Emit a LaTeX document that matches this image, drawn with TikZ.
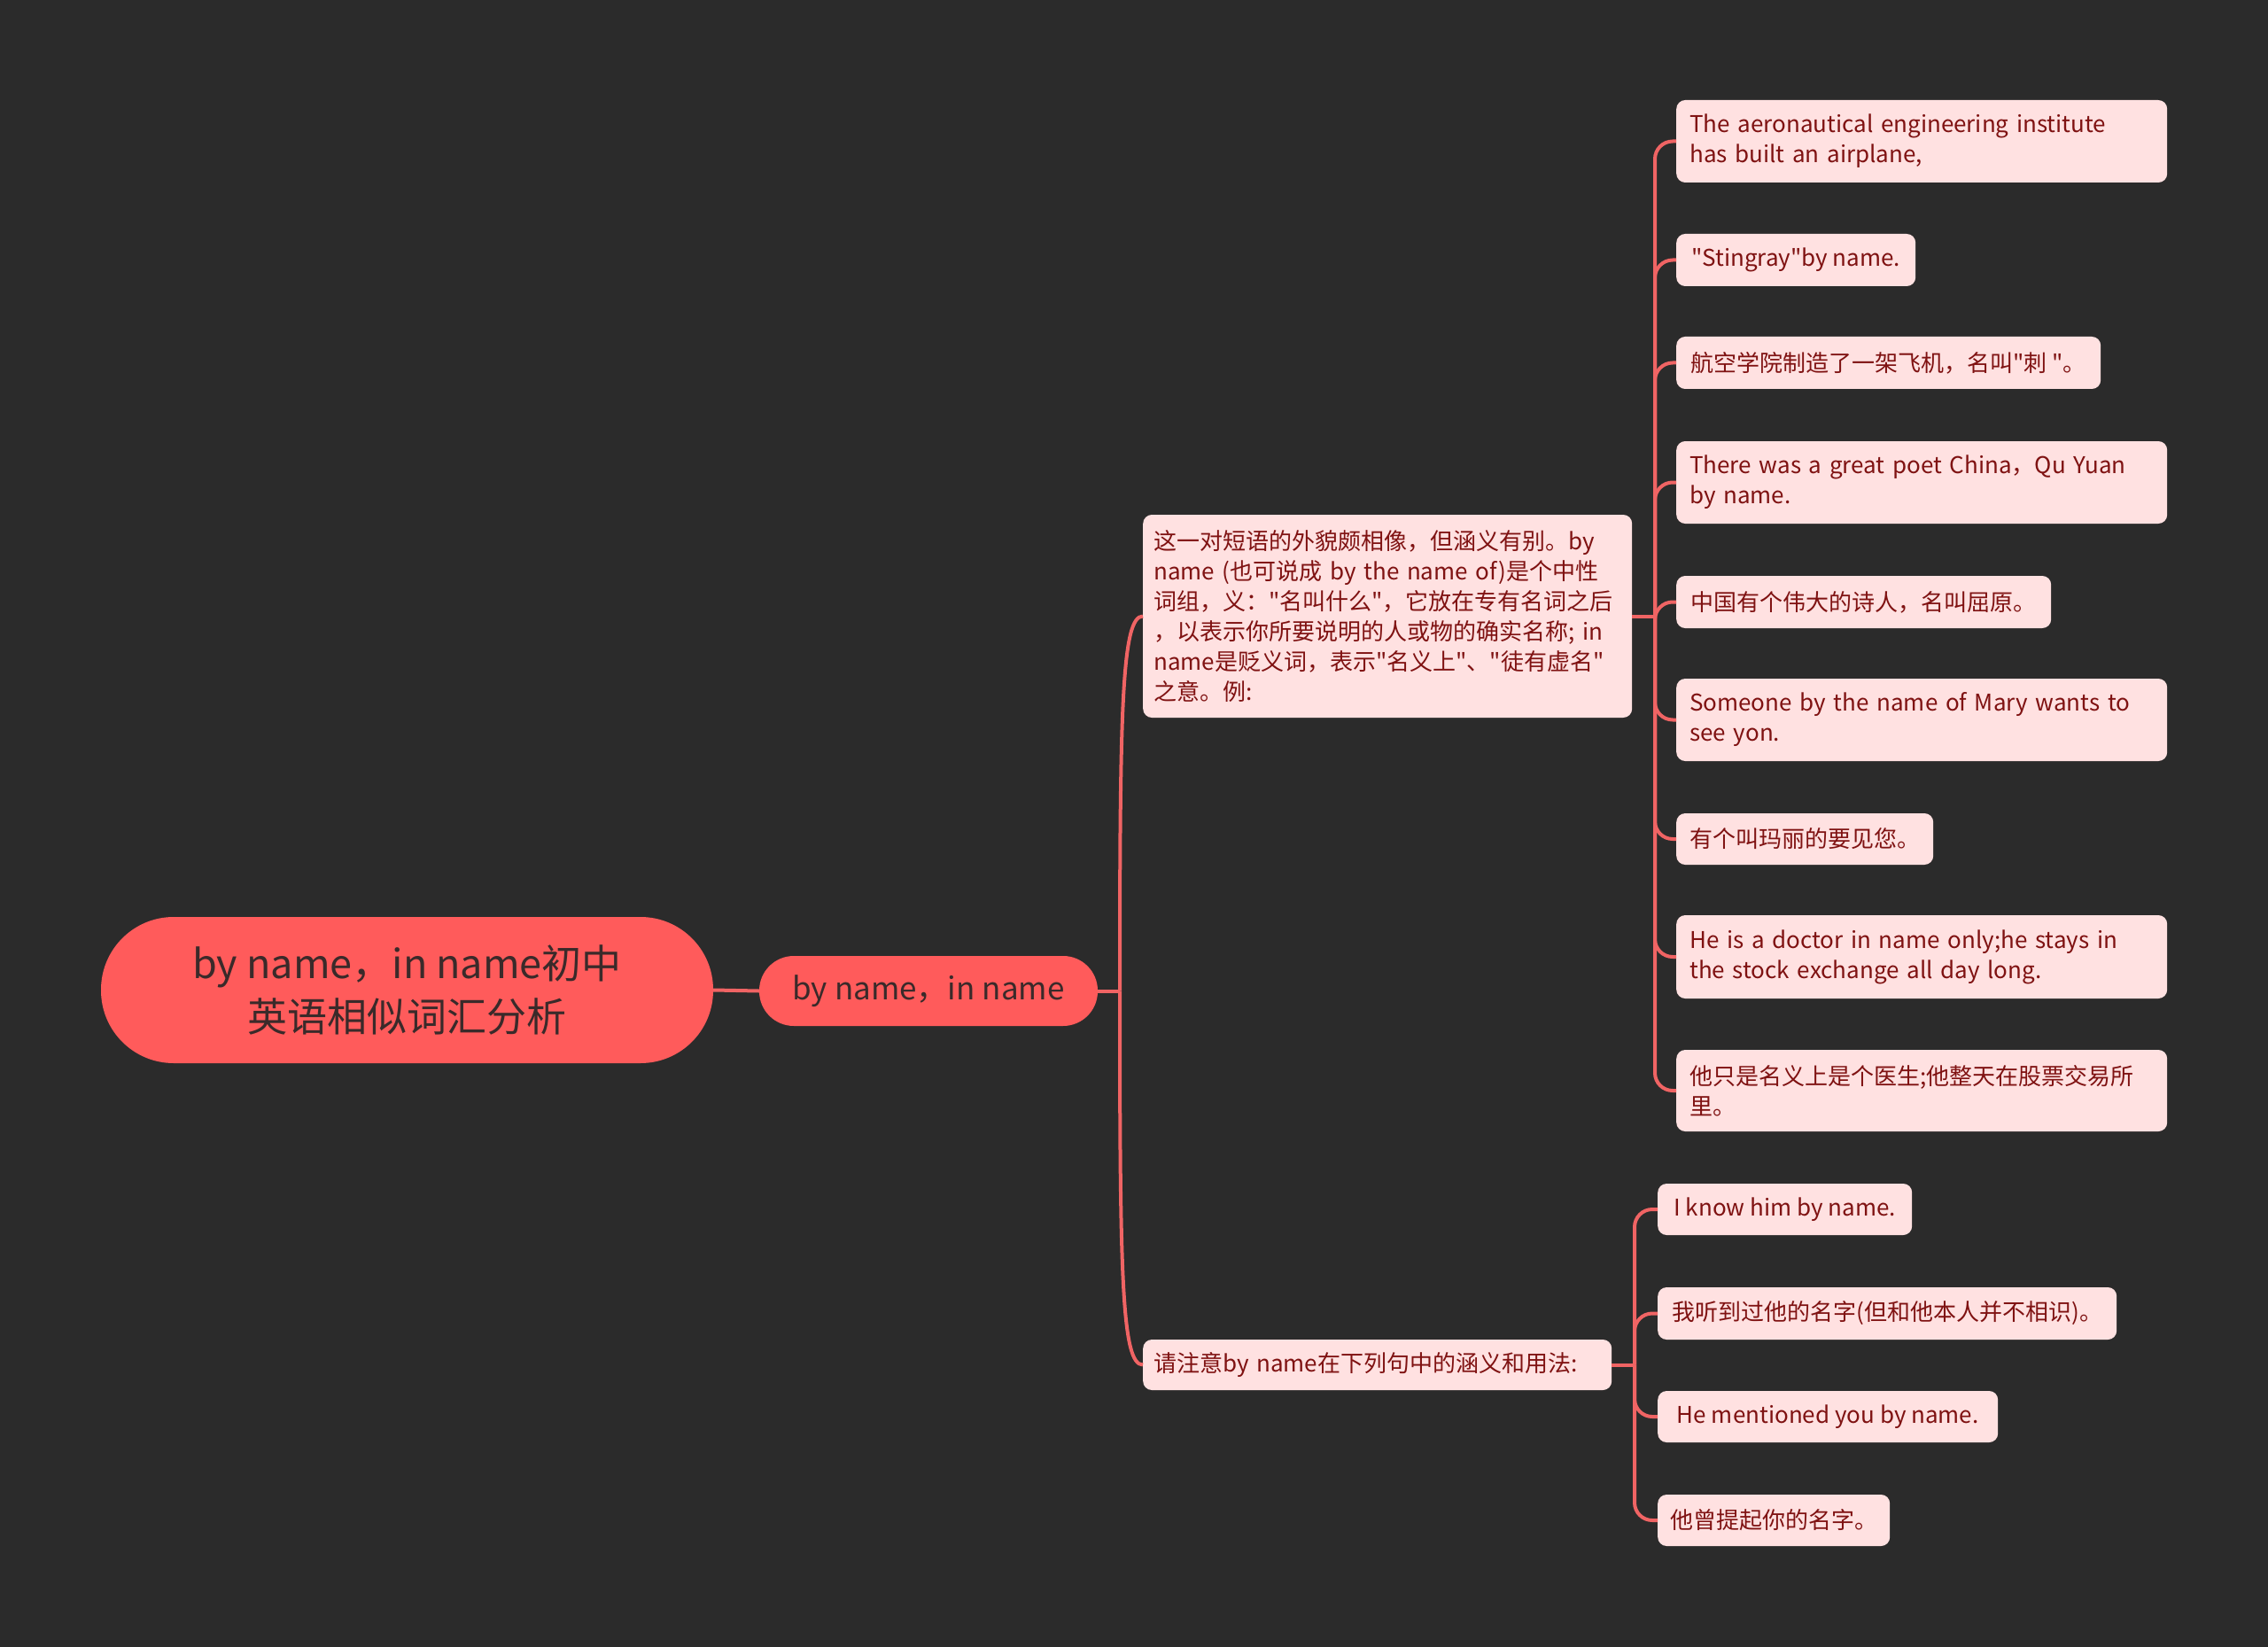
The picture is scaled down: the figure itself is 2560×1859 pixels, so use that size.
\documentclass[tikz,border=0pt]{standalone}
\usepackage{fontspec}
\newfontfamily\cjkf{Noto Sans CJK SC}
\definecolor{bg}{HTML}{2B2B2B}
\definecolor{rootfill}{HTML}{FF5B5B}
\definecolor{roottext}{HTML}{3A2A2A}
\definecolor{leaffill}{HTML}{FFE1E1}
\definecolor{leaftext}{HTML}{7F1212}
\definecolor{conn}{HTML}{F06464}
\tikzset{
  rootbox/.style={fill=rootfill, draw=none, rounded corners=82pt, align=center, text=roottext, inner sep=0pt,
    font=\cjkf\fontsize{45}{60}\selectfont},
  lvlbox/.style={fill=rootfill, draw=none, rounded corners=39pt, align=center, text=roottext, inner sep=0pt,
    font=\cjkf\fontsize{35}{44}\selectfont},
  leaf/.style={fill=leaffill, draw=none, rounded corners=10pt, align=left, text=leaftext, inner ysep=0pt, inner xsep=15pt,
    anchor=west, font=\cjkf\fontsize{26}{34}\selectfont},
  conline/.style={draw=conn, line width=4pt},
}
\begin{document}
\begin{tikzpicture}[x=1pt,y=-1pt]
\path[fill=bg] (0,0) rectangle (2560,1859);
\useasboundingbox (0,0) rectangle (2560,1859);

% root and level 1
\node[rootbox, minimum width=691pt, minimum height=165pt] (root) at (459.5,1117.5) {by name，in name初中\\英语相似词汇分析};
\node[lvlbox, minimum width=382pt, minimum height=79pt] (l1) at (1048,1118.5) {by name，in name};

% level 2
\node[leaf, minimum width=552pt, minimum height=229pt, inner xsep=12pt, text width=528pt] (A) at (1290,695.5)
{这一对短语的外貌颇相像，但涵义有别。by\\name (也可说成 by the name of)是个中性\\词组，义："名叫什么"，它放在专有名词之后\\，以表示你所要说明的人或物的确实名称; in\\name是贬义词，表示"名义上"、"徒有虚名"\\之意。例:};
\node[leaf, minimum width=529pt, minimum height=57pt, inner xsep=12pt, text width=505pt] (B) at (1290,1540.5) {请注意by name在下列句中的涵义和用法:};

% leaves of A
\node[leaf, minimum width=554pt, minimum height=93pt, text width=524pt] (a1) at (1892,159.5) {The aeronautical engineering institute\\has built an airplane,};
\node[leaf, minimum width=270pt, minimum height=59pt] (a2) at (1892,293.5) {"Stingray"by name.};
\node[leaf, minimum width=479pt, minimum height=59pt] (a3) at (1892,409.5) {航空学院制造了一架飞机，名叫"刺 "。};
\node[leaf, minimum width=554pt, minimum height=93pt, text width=524pt] (a4) at (1892,544.5) {There was a great poet China，Qu Yuan\\by name.};
\node[leaf, minimum width=423pt, minimum height=59pt] (a5) at (1892,679.5) {中国有个伟大的诗人，名叫屈原。};
\node[leaf, minimum width=554pt, minimum height=93pt, text width=524pt] (a6) at (1892,812.5) {Someone by the name of Mary wants to\\see yon.};
\node[leaf, minimum width=290pt, minimum height=58pt] (a7) at (1892,947) {有个叫玛丽的要见您。};
\node[leaf, minimum width=554pt, minimum height=94pt, text width=524pt] (a8) at (1892,1080) {He is a doctor in name only;he stays in\\the stock exchange all day long.};
\node[leaf, minimum width=554pt, minimum height=92pt, text width=524pt] (a9) at (1892,1231) {他只是名义上是个医生;他整天在股票交易所\\里。};

% leaves of B
\node[leaf, minimum width=287pt, minimum height=58pt, inner xsep=13pt] (b1) at (1871,1365) {I know him by name.};
\node[leaf, minimum width=518pt, minimum height=59pt, inner xsep=13pt] (b2) at (1871,1482.5) {我听到过他的名字(但和他本人并不相识)。};
\node[leaf, minimum width=384pt, minimum height=58pt, inner xsep=13pt] (b3) at (1871,1599) {He mentioned you by name.};
\node[leaf, minimum width=262pt, minimum height=58pt, inner xsep=13pt] (b4) at (1871,1716) {他曾提起你的名字。};

% connectors
\coordinate (jl) at (1264,1118.5);
\coordinate (ja) at (1868,695.5);
\coordinate (jb) at (1845,1540.5);

\draw[conline] (root.east) -- (l1.west);
\draw[conline] (l1.east) -- (jl);
\draw[conline] (jl) .. controls (1264,800) and (1266,695.5) .. (A.west);
\draw[conline] (jl) .. controls (1264,1440) and (1266,1540.5) .. (B.west);

\draw[conline] (A.east) -- (ja);
\foreach \n in {a1,a2,a3,a4,a5,a6,a7,a8,a9}
  \draw[conline, rounded corners=20pt] (ja) |- (\n.west);

\draw[conline] (B.east) -- (jb);
\foreach \n in {b1,b2,b3,b4}
  \draw[conline, rounded corners=20pt] (jb) |- (\n.west);
\end{tikzpicture}
\end{document}
